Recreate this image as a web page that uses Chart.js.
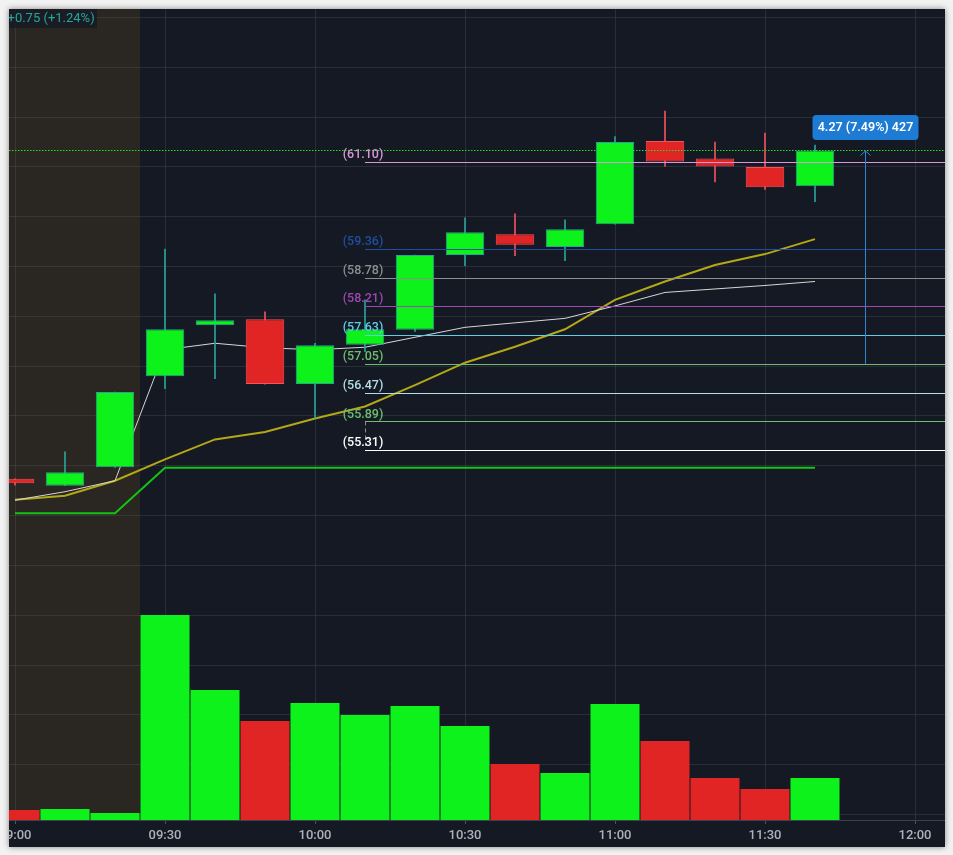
<!DOCTYPE html>
<html>
<head>
<meta charset="utf-8">
<script src="https://cdn.jsdelivr.net/npm/chart.js@4"></script>
<style>
  html, body { margin: 0; padding: 0; background: #f2f2f2; }
  #wrap {
    position: absolute; left: 9px; top: 9px; width: 936px; height: 838px;
    background: #151924; box-shadow: 0 0 6px rgba(0,0,0,0.45);
  }
</style>
</head>
<body>
<div id="wrap"><canvas id="chart"></canvas></div>
<script>
// 10-minute candles, time in minutes since midnight (540 = 09:00)
const times = [540, 550, 560, 570, 580, 590, 600, 610, 620, 630, 640, 650, 660, 670, 680, 690, 700];
const opens  = [54.74, 54.60, 54.97, 56.80, 57.82, 57.94, 56.64, 57.43, 57.73, 59.23, 59.65, 59.39, 59.85, 61.52, 61.17, 61.00, 60.61];
const highs  = [54.74, 55.28, 56.48, 59.35, 58.45, 58.09, 57.46, 58.33, 59.23, 59.98, 60.06, 59.94, 61.61, 62.12, 61.50, 61.68, 61.44];
const lows   = [54.61, 54.60, 54.97, 56.55, 56.75, 56.64, 55.95, 57.29, 57.70, 59.02, 59.22, 59.12, 59.85, 61.01, 60.70, 60.55, 60.30];
const closes = [54.65, 54.87, 56.48, 57.74, 57.92, 56.64, 57.42, 57.74, 59.23, 59.69, 59.44, 59.75, 61.50, 61.11, 61.01, 60.59, 61.33];
const volumes = [5, 5.5, 3.5, 102.5, 65, 49.5, 58.5, 52.5, 57, 47, 28, 23.5, 58, 39.5, 21, 15.5, 21]; // thousands

// indicator lines
const maYellow = [54.32, 54.40, 54.70, 55.13, 55.53, 55.68, 55.95, 56.19, 56.62, 57.07, 57.39, 57.74, 58.33, 58.70, 59.03, 59.25, 59.55];
const vwapWhite = [54.31, 54.48, 54.70, 57.33, 57.46, 57.37, 57.33, 57.38, 57.58, 57.78, 57.87, 57.96, 58.21, 58.48, 58.55, 58.62, 58.70];
const stopGreen = [54.05, 54.05, 54.05, 54.96, 54.96, 54.96, 54.96, 54.96, 54.96, 54.96, 54.96, 54.96, 54.96, 54.96, 54.96, 54.96, 54.96];

// fib drawing
const fibLevels = [61.10, 59.36, 58.78, 58.21, 57.63, 57.05, 56.47, 55.89, 55.31];
const fibColors = ['#d996d9', '#1f4f9e', '#8e8e8e', '#9d48b3', '#5fcde4', '#6dbf6d', '#b4dde6', '#6dbf6d', '#ffffff'];
const fibStart = 610;

// measure tool + header
const measureTime = 710;
const measureFrom = 57.05;
const measureTo = 61.32;
const measureText = '4.27 (7.49%) 427';
const lastPrice = 61.33;
const changeText = '+0.75 (+1.24%)';
const premarketEnd = 565;

const timeTicks = [540, 570, 600, 630, 660, 690, 720];

const UP = '#0ef21c', DOWN = '#e12424';
const isUp = times.map((t, i) => closes[i] >= opens[i]);

function fmtTime(v) {
  const h = Math.floor(v / 60), m = v % 60;
  return String(h).padStart(2, '0') + ':' + String(m).padStart(2, '0');
}

const bgPlugin = {
  id: 'bg',
  beforeDraw(chart) {
    const { ctx, chartArea, scales } = chart;
    ctx.save();
    ctx.fillStyle = '#151924';
    ctx.fillRect(0, 0, chart.width, chart.height);
    const xe = scales.x.getPixelForValue(premarketEnd);
    ctx.fillStyle = '#2a2622';
    ctx.fillRect(chartArea.left, chartArea.top, xe - chartArea.left, chartArea.bottom - chartArea.top);
    ctx.restore();
  }
};

const drawingsPlugin = {
  id: 'drawings',
  afterDatasetsDraw(chart) {
    const { ctx, chartArea, scales } = chart;
    const x = scales.x, y = scales.y;
    ctx.save();

    // last price dotted line
    ctx.strokeStyle = '#22e022';
    ctx.lineWidth = 1;
    ctx.setLineDash([1.5, 1.5]);
    const yl = Math.round(y.getPixelForValue(lastPrice)) + 0.5;
    ctx.beginPath();
    ctx.moveTo(chartArea.left, yl);
    ctx.lineTo(chartArea.right, yl);
    ctx.stroke();
    ctx.setLineDash([]);

    // fib levels
    const xf = x.getPixelForValue(fibStart);
    ctx.font = '500 12.5px Roboto, "Noto Sans", sans-serif';
    ctx.textAlign = 'center';
    ctx.textBaseline = 'middle';
    fibLevels.forEach((p, i) => {
      const yy = Math.round(y.getPixelForValue(p)) + 0.5;
      ctx.strokeStyle = fibColors[i];
      ctx.beginPath();
      ctx.moveTo(xf, yy);
      ctx.lineTo(chartArea.right, yy);
      ctx.stroke();
    });
    // dashed trend part of the fib tool
    ctx.strokeStyle = '#8a8d96';
    ctx.setLineDash([4, 3]);
    ctx.beginPath();
    ctx.moveTo(Math.round(xf) + 0.5, y.getPixelForValue(55.89));
    ctx.lineTo(Math.round(xf) + 0.5, y.getPixelForValue(55.40));
    ctx.stroke();
    ctx.setLineDash([]);
    fibLevels.forEach((p, i) => {
      const yy = y.getPixelForValue(p);
      ctx.fillStyle = fibColors[i];
      ctx.fillText('(' + p.toFixed(2) + ')', xf - 2, yy - 7);
    });

    // measure arrow
    const xm = Math.round(x.getPixelForValue(measureTime)) + 0.5;
    const y0 = y.getPixelForValue(measureFrom);
    const y1 = y.getPixelForValue(measureTo);
    ctx.strokeStyle = '#2f86d8';
    ctx.lineWidth = 1;
    ctx.beginPath();
    ctx.moveTo(xm, y0);
    ctx.lineTo(xm, y1);
    ctx.moveTo(xm - 5, y1 + 4.5);
    ctx.lineTo(xm, y1);
    ctx.lineTo(xm + 5, y1 + 4.5);
    ctx.stroke();
    // measure label
    ctx.font = '600 12.5px Roboto, "Noto Sans", sans-serif';
    const bw = 106, bh = 25;
    const bx = xm - bw / 2, by = y1 - 11 - bh;
    ctx.fillStyle = '#1e7bd4';
    ctx.beginPath();
    ctx.roundRect(bx, by, bw, bh, 4);
    ctx.fill();
    ctx.fillStyle = '#ffffff';
    ctx.textAlign = 'center';
    ctx.fillText(measureText, xm, by + bh / 2 + 0.5);

    // change header
    ctx.fillStyle = 'rgba(24,27,36,0.85)';
    ctx.fillRect(0, 0, 88, 19);
    ctx.font = '13px Roboto, "Noto Sans", sans-serif';
    ctx.fillStyle = '#26a69a';
    ctx.textAlign = 'left';
    ctx.fillText(changeText, -1.5, 9.5);

    ctx.restore();
  }
};

const ctx = document.getElementById('chart').getContext('2d');
new Chart(ctx, {
  type: 'bar',
  data: {
    datasets: [
      {
        type: 'bar',
        label: 'body',
        data: times.map((t, i) => ({ x: t, y: [opens[i], closes[i]] })),
        backgroundColor: isUp.map(u => u ? UP : DOWN),
        borderColor: isUp.map(u => u ? '#2aa39b' : '#f4525c'),
        borderWidth: 1,
        borderSkipped: false,
        grouped: false,
        categoryPercentage: 1,
        barPercentage: 0.77,
        yAxisID: 'y',
        order: 0
      },
      {
        type: 'bar',
        label: 'wick',
        data: times.map((t, i) => ({ x: t, y: [lows[i], highs[i]] })),
        backgroundColor: isUp.map(u => u ? '#2aa39b' : '#f0505a'),
        barThickness: 1,
        grouped: false,
        yAxisID: 'y',
        order: 1
      },
      {
        type: 'line',
        label: 'vwap',
        data: times.map((t, i) => ({ x: t, y: vwapWhite[i] })),
        borderColor: '#d6d6d6',
        borderWidth: 1,
        pointRadius: 0,
        tension: 0,
        yAxisID: 'y',
        order: 2
      },
      {
        type: 'line',
        label: 'ma',
        data: times.map((t, i) => ({ x: t, y: maYellow[i] })),
        borderColor: '#b5a816',
        borderWidth: 2,
        pointRadius: 0,
        tension: 0,
        yAxisID: 'y',
        order: 3
      },
      {
        type: 'line',
        label: 'stop',
        data: times.map((t, i) => ({ x: t, y: stopGreen[i] })),
        borderColor: '#14c414',
        borderWidth: 2,
        pointRadius: 0,
        tension: 0,
        yAxisID: 'y',
        order: 4
      },
      {
        type: 'bar',
        label: 'volume',
        data: times.map((t, i) => ({ x: t, y: volumes[i] })),
        backgroundColor: isUp.map(u => u ? UP : DOWN),
        borderWidth: 0,
        grouped: false,
        categoryPercentage: 1,
        barPercentage: 0.98,
        yAxisID: 'yv',
        order: 5
      }
    ]
  },
  options: {
    responsive: true,
    maintainAspectRatio: false,
    animation: false,
    layout: { padding: 0 },
    plugins: {
      legend: { display: false },
      tooltip: { enabled: false },
      title: { display: false }
    },
    scales: {
      x: {
        type: 'linear',
        position: 'bottom',
        min: 538.8,
        max: 726,
        offset: false,
        afterBuildTicks: s => { s.ticks = timeTicks.map(v => ({ value: v })); },
        afterFit: s => { s.height = 27; s.paddingLeft = 0; s.paddingRight = 0; },
        grid: {
          offset: false,
          color: 'rgba(120,123,134,0.2)',
          drawTicks: true,
          tickLength: 4,
          tickColor: '#50535e'
        },
        border: { display: true, color: '#3f424c', width: 1 },
        ticks: {
          padding: 4,
          maxRotation: 0,
          autoSkip: false,
          color: '#aeb1ba',
          font: { family: 'Roboto', size: 13, weight: '500' },
          callback: v => fmtTime(v)
        }
      },
      y: {
        type: 'linear',
        position: 'right',
        min: 47.89,
        max: 64.17,
        afterFit: s => { s.width = 0; },
        ticks: { display: false, stepSize: 1, includeBounds: false },
        grid: { color: 'rgba(120,123,134,0.2)', drawTicks: false },
        border: { display: false }
      },
      yv: {
        type: 'linear',
        display: false,
        min: 0,
        max: 405.5
      }
    }
  },
  plugins: [bgPlugin, drawingsPlugin]
});
</script>
</body>
</html>
